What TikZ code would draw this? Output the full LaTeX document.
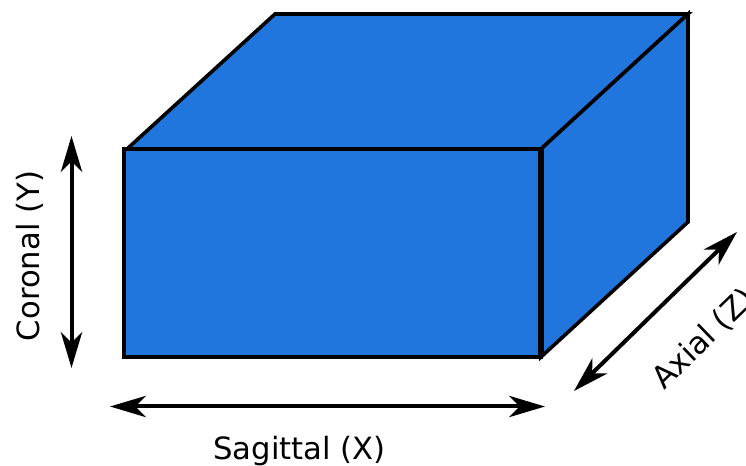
\documentclass[tikz,border=0pt]{standalone}
\usepackage{fontspec}
\setmainfont{DejaVu Sans}
\usetikzlibrary{arrows.meta}
\definecolor{faceblue}{HTML}{2076DC}
\tikzset{
  face/.style={fill=faceblue,draw=black,line join=miter},
  dim/.style={line width=3pt,black,{Stealth[length=27pt,width=16pt,inset=8pt]}-{Stealth[length=27pt,width=16pt,inset=8pt]}},
  lbl/.style={font=\fontsize{23pt}{28pt}\selectfont,text=black,inner sep=0pt}
}
\begin{document}
\begin{tikzpicture}[x=0.75pt,y=-0.75pt]
\useasboundingbox (0,0) rectangle (746,466);
\coordinate (A) at (127,149);
\coordinate (A2) at (124,149);
\coordinate (B) at (541,149);
\coordinate (C) at (541,357);
\coordinate (E) at (275,14);
\coordinate (F) at (688,14);
\coordinate (G) at (688,222);
\draw[face,line width=2.7pt] (A) -- (E) -- (F) -- (B) -- cycle;
\draw[face,line width=2.7pt] (B) -- (F) -- (G) -- (C) -- cycle;
\draw[face,line width=3.5pt] (A2) rectangle (C);
\draw[black,line width=4pt] (B) -- (C);
\coordinate (y1) at (71.5,136);
\coordinate (y2) at (71.5,368);
\coordinate (x1) at (110,406.5);
\coordinate (x2) at (545,406.5);
\coordinate (z1) at (574,391);
\coordinate (z2) at (737,232);
\draw[dim] (y1) -- (y2);
\draw[dim] (x1) -- (x2);
\draw[dim] (z1) -- (z2);
\node[lbl,rotate=90] (ylabel) at (30,256) {Coronal (Y)};
\node[lbl] (xlabel) at (299.5,451) {Sagittal (X)};
\node[lbl,rotate=44] (zlabel) at (704,339) {Axial (Z)};
\end{tikzpicture}
\end{document}
